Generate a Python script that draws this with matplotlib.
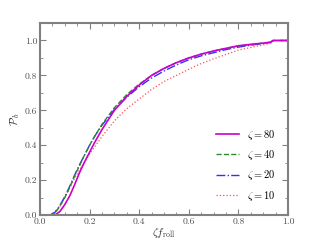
import matplotlib
matplotlib.use("Agg")
import matplotlib.pyplot as plt
from matplotlib.ticker import MultipleLocator, FuncFormatter

plt.rcParams['font.family'] = 'serif'
plt.rcParams['font.serif'] = ['cmr10', 'DejaVu Serif']
plt.rcParams['mathtext.fontset'] = 'cm'
plt.rcParams['axes.formatter.use_mathtext'] = True

# cumulative curves
x80 = [0.05, 0.06, 0.08, 0.10, 0.12, 0.14, 0.16, 0.18, 0.20, 0.22, 0.25, 0.30, 0.35, 0.40,
       0.45, 0.50, 0.55, 0.60, 0.65, 0.70, 0.75, 0.80, 0.85, 0.90, 0.93, 0.94, 1.0]
y80 = [0.0, 0.0, 0.02, 0.06, 0.11, 0.175, 0.245, 0.305, 0.36, 0.415, 0.49, 0.60, 0.68, 0.745,
       0.80, 0.84, 0.873, 0.90, 0.922, 0.94, 0.955, 0.97, 0.978, 0.985, 0.99, 1.0, 1.0]

x40 = [0.04, 0.06, 0.08, 0.10, 0.12, 0.14, 0.16, 0.18, 0.20, 0.22, 0.25, 0.30, 0.35, 0.40,
       0.45, 0.50, 0.55, 0.60, 0.65, 0.70, 0.75, 0.80, 0.85, 0.90, 0.93, 0.94, 1.0]
y40 = [0.0, 0.01, 0.05, 0.10, 0.16, 0.225, 0.285, 0.345, 0.40, 0.45, 0.52, 0.615, 0.69, 0.75,
       0.80, 0.84, 0.873, 0.90, 0.922, 0.94, 0.955, 0.968, 0.976, 0.985, 0.99, 1.0, 1.0]

x20 = [0.04, 0.06, 0.08, 0.10, 0.12, 0.14, 0.16, 0.18, 0.20, 0.22, 0.25, 0.30, 0.35, 0.40,
       0.45, 0.50, 0.55, 0.60, 0.65, 0.70, 0.75, 0.80, 0.85, 0.90, 0.93, 0.94, 1.0]
y20 = [0.0, 0.015, 0.055, 0.105, 0.165, 0.23, 0.29, 0.345, 0.40, 0.45, 0.515, 0.605, 0.675, 0.735,
       0.785, 0.825, 0.86, 0.89, 0.912, 0.93, 0.948, 0.962, 0.973, 0.983, 0.99, 1.0, 1.0]

x10 = [0.04, 0.06, 0.08, 0.10, 0.12, 0.14, 0.16, 0.18, 0.20, 0.22, 0.25, 0.30, 0.35, 0.40,
       0.45, 0.50, 0.55, 0.60, 0.65, 0.70, 0.75, 0.80, 0.85, 0.90, 0.93, 0.94, 1.0]
y10 = [0.0, 0.015, 0.05, 0.10, 0.155, 0.21, 0.26, 0.305, 0.35, 0.39, 0.45, 0.54, 0.61, 0.665,
       0.72, 0.765, 0.80, 0.835, 0.868, 0.895, 0.92, 0.945, 0.96, 0.975, 0.985, 1.0, 1.0]

fig = plt.figure(figsize=(3.2, 2.4), dpi=100)
ax = fig.add_axes([0.125, 0.104, 0.775, 0.8])

ax.plot(x10, y10, ':', color='#ff5050', lw=0.9, label=r'$\zeta = 10$')
ax.plot(x20, y20, '-.', color='#3030ff', lw=1.0, label=r'$\zeta = 20$')
ax.plot(x40, y40, '--', color='#2e8b2e', lw=1.0, label=r'$\zeta = 40$')
ax.plot(x80, y80, '-', color='#cc00cc', lw=1.2, label=r'$\zeta = 80$')

ax.set_xlim(0, 1)
ax.set_ylim(0, 1.1)
ax.xaxis.set_major_locator(MultipleLocator(0.2))
ax.xaxis.set_minor_locator(MultipleLocator(0.05))
ax.yaxis.set_major_locator(MultipleLocator(0.2))
ax.yaxis.set_minor_locator(MultipleLocator(0.1))
fmt = FuncFormatter(lambda v, p: '%.1f' % v)
ax.xaxis.set_major_formatter(fmt)
ax.yaxis.set_major_formatter(fmt)
ax.tick_params(which='both', direction='in', top=True, right=True, colors='#808080',
               labelcolor='#505050', labelsize=7)
ax.tick_params(which='major', length=4, width=0.8, pad=2)
ax.tick_params(which='minor', length=2, width=0.6)
for s in ax.spines.values():
    s.set_color('#808080')
    s.set_linewidth(1.5)

ax.set_xlabel(r'$\zeta f_{\rm roll}$', fontsize=8, labelpad=0, color='#303030')
ax.set_ylabel(r'$\mathcal{P}_b$', fontsize=8, labelpad=2, color='#303030')

h, l = ax.get_legend_handles_labels()
ax.legend(h[::-1], l[::-1], loc='lower right', frameon=False, fontsize=7.5,
          handlelength=2.2, labelspacing=0.6, borderaxespad=0.8)

fig.savefig('out.png', dpi=100)
